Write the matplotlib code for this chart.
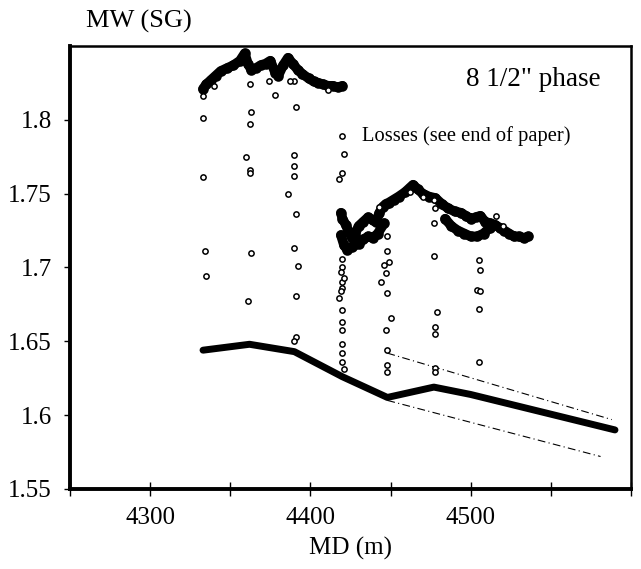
import matplotlib.pyplot as plt
from matplotlib.ticker import FixedLocator, FixedFormatter

plt.rcParams['font.family'] = ['Liberation Serif', 'DejaVu Serif']

# Mud weight while drilling, upper band (first section)
band1_md = [4333, 4335, 4338, 4341, 4344, 4348, 4352, 4356, 4359, 4361, 4363, 4366,
            4369, 4372, 4375, 4378, 4380, 4383, 4386, 4389, 4392, 4395, 4399,
            4402, 4405, 4408, 4411, 4414, 4417, 4420]
band1_mw = [1.821, 1.824, 1.827, 1.830, 1.833, 1.835, 1.837, 1.840, 1.845, 1.838, 1.834, 1.835,
            1.837, 1.838, 1.840, 1.832, 1.830, 1.837, 1.842, 1.838, 1.834, 1.831, 1.828,
            1.826, 1.825, 1.824, 1.823, 1.823, 1.822, 1.823]

# Second section of the band after the first losses
band2_md = [4419, 4420, 4422, 4424, 4426, 4428, 4430, 4433, 4436, 4439, 4441, 4443,
            4445, 4447, 4449, 4452, 4455, 4459, 4462, 4464, 4467, 4470, 4474, 4478,
            4482, 4486, 4490, 4494, 4497, 4500, 4503, 4506, 4509, 4512, 4515,
            4518, 4521, 4524, 4527, 4530, 4533, 4536]
band2_mw = [1.737, 1.733, 1.729, 1.724, 1.720, 1.723, 1.728, 1.731, 1.734, 1.732, 1.731, 1.737,
            1.741, 1.743, 1.744, 1.746, 1.748, 1.751, 1.754, 1.756, 1.753, 1.750, 1.748, 1.747,
            1.743, 1.740, 1.738, 1.737, 1.735, 1.733, 1.734, 1.735, 1.731, 1.730, 1.729,
            1.727, 1.725, 1.723, 1.721, 1.721, 1.720, 1.721]

# Lower branches inside the second section
low_a_md = [4419, 4421, 4423, 4426, 4430, 4433, 4436, 4439, 4442, 4446]
low_a_mw = [1.722, 1.715, 1.712, 1.714, 1.716, 1.719, 1.721, 1.720, 1.723, 1.730]
low_b_md = [4484, 4488, 4492, 4496, 4500, 4504, 4508, 4512]
low_b_mw = [1.733, 1.728, 1.725, 1.723, 1.721, 1.721, 1.723, 1.727]

# Individual readings during the losses
loss_md = [4333, 4333, 4333, 4334, 4335,
           4362, 4363, 4360, 4362, 4362, 4362, 4363, 4361,
           4390, 4391, 4390, 4390, 4390, 4386, 4391, 4390, 4392, 4391, 4391, 4390,
           4420, 4421, 4420, 4418, 4420, 4420, 4420, 4418, 4420, 4420, 4420, 4420, 4420, 4420,
           4421, 4419, 4421, 4420, 4419,
           4448, 4448, 4447, 4448, 4450, 4447, 4448, 4448, 4448, 4443, 4446, 4449, 4444,
           4477, 4478, 4477, 4477, 4479, 4478, 4478, 4478, 4478,
           4505, 4506, 4504, 4506, 4505, 4505,
           4340, 4374, 4378, 4387, 4411, 4470, 4462, 4516, 4520]
loss_mw = [1.816, 1.801, 1.761, 1.711, 1.694,
           1.824, 1.805, 1.775, 1.797, 1.766, 1.764, 1.710, 1.677,
           1.826, 1.809, 1.776, 1.769, 1.762, 1.750, 1.736, 1.713, 1.701, 1.681, 1.653, 1.650,
           1.789, 1.777, 1.764, 1.760, 1.706, 1.700, 1.690, 1.679, 1.671, 1.663, 1.658, 1.648,
           1.642, 1.636,
           1.631, 1.697, 1.693, 1.686, 1.684,
           1.721, 1.711, 1.696, 1.683, 1.666, 1.658, 1.644, 1.634, 1.629, 1.741, 1.702, 1.704, 1.690,
           1.746, 1.740, 1.730, 1.708, 1.670, 1.660, 1.655, 1.632, 1.629,
           1.705, 1.698, 1.685, 1.684, 1.672, 1.636,
           1.823, 1.826, 1.817, 1.826, 1.820, 1.748, 1.751, 1.735, 1.728]

# Equivalent circulating density trend
ecd_md = [4333, 4362, 4390, 4420, 4448, 4477, 4500, 4590]
ecd_mw = [1.644, 1.648, 1.643, 1.626, 1.612, 1.619, 1.614, 1.590]

# Envelope lines
env_up_md = [4448, 4588]
env_up_mw = [1.642, 1.597]
env_lo_md = [4448, 4581]
env_lo_mw = [1.610, 1.572]

x_ticks = [4250, 4300, 4350, 4400, 4450, 4500, 4550, 4600]
x_labels = ['', '4300', '', '4400', '', '4500', '', '']
y_ticks = [1.55, 1.6, 1.65, 1.7, 1.75, 1.8]
y_labels = ['1.55', '1.6', '1.65', '1.7', '1.75', '1.8']

fig = plt.figure(figsize=(6.41, 5.69), dpi=100)
ax = fig.add_axes([0.1092, 0.1406, 0.8752, 0.7786])

ax.plot(ecd_md, ecd_mw, color='black', lw=5, solid_capstyle='round', zorder=3)
ax.plot(env_up_md, env_up_mw, color='black', lw=0.8, ls=(0, (7, 3, 1, 3)))
ax.plot(env_lo_md, env_lo_mw, color='black', lw=0.8, ls=(0, (7, 3, 1, 3)))

for md, mw in [(band1_md, band1_mw), (band2_md, band2_mw),
               (low_a_md, low_a_mw), (low_b_md, low_b_mw)]:
    ax.plot(md, mw, color='black', lw=7, solid_capstyle='round',
            solid_joinstyle='round', zorder=4)
    ax.plot(md, mw, ls='none', marker='o', ms=6, mfc='none', mec='black', mew=1.6, zorder=4)

ax.plot(loss_md, loss_mw, ls='none', marker='o', ms=3.8, mfc='white', mec='black',
        mew=1.1, zorder=5)

ax.set_xlim(4250, 4600)
ax.set_ylim(1.55, 1.85)

ax.xaxis.set_major_locator(FixedLocator(x_ticks))
ax.xaxis.set_major_formatter(FixedFormatter(x_labels))
ax.yaxis.set_major_locator(FixedLocator(y_ticks))
ax.yaxis.set_major_formatter(FixedFormatter(y_labels))
ax.tick_params(axis='x', direction='inout', length=10, width=1, labelsize=18, pad=8)
ax.tick_params(axis='y', direction='out', length=4, width=1, labelsize=18, pad=9)

for side in ['left', 'bottom']:
    ax.spines[side].set_linewidth(2.8)
for side in ['top', 'right']:
    ax.spines[side].set_linewidth(1.8)

ax.set_xlabel('MD (m)', fontsize=18, labelpad=6)
fig.text(0.134, 0.962, 'MW (SG)', fontsize=19, va='center', ha='left')

ax.text(4581, 1.827, '8 1/2" phase', fontsize=19.5, ha='right', va='center')
ax.text(4432, 1.789, 'Losses (see end of paper)', fontsize=14.8, ha='left', va='center')

fig.savefig('out.png', dpi=100)
